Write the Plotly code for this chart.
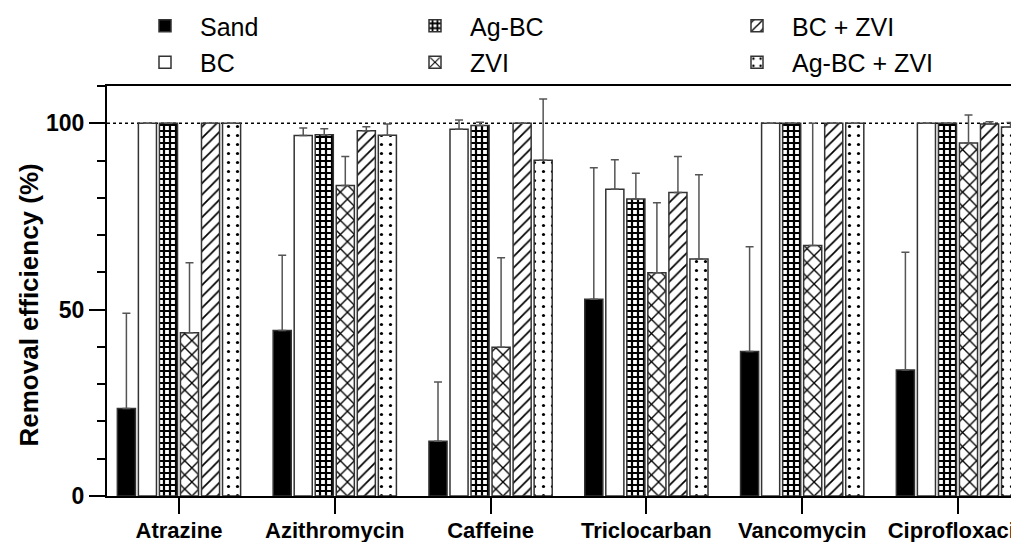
import plotly.graph_objects as go

categories = ["Atrazine", "Azithromycin", "Caffeine", "Triclocarban", "Vancomycin", "Ciprofloxacin"]
series_names = ["Sand", "BC", "Ag-BC", "ZVI", "BC + ZVI", "Ag-BC + ZVI"]

sand = [23.5, 44.4, 14.7, 52.8, 38.8, 33.8]
sand_err = [25.5, 20.2, 15.9, 35.3, 28.1, 31.6]
bc = [100, 96.7, 98.4, 82.3, 100, 100]
bc_err = [0, 2.0, 2.5, 7.9, 0, 0]
agbc = [100, 96.9, 99.4, 79.7, 100, 100]
agbc_err = [0, 1.6, 0.9, 6.9, 0, 0]
zvi = [43.8, 83.3, 39.9, 59.9, 67.2, 94.7]
zvi_err = [18.8, 7.8, 24.0, 18.8, 32.8, 7.5]
bczvi = [100, 98.0, 100, 81.4, 100, 99.8]
bczvi_err = [0, 1.1, 0, 9.7, 0, 0.6]
agbczvi = [100, 96.8, 90.1, 63.6, 100, 99.0]
agbczvi_err = [0, 3.0, 16.4, 22.6, 0, 1.2]

values = [sand, bc, agbc, zvi, bczvi, agbczvi]
errors = [sand_err, bc_err, agbc_err, zvi_err, bczvi_err, agbczvi_err]

patterns = [
    dict(shape="", fill="black"),
    dict(shape="", fill="white"),
    dict(shape="+", fill="white", size=6, solidity=0.6),
    dict(shape="x", fill="white", size=10, solidity=0.25),
    dict(shape="/", fill="white", size=8, solidity=0.22),
    dict(shape=".", fill="white", size=9, solidity=0.1),
]
legends = ["legend", "legend", "legend2", "legend2", "legend3", "legend3"]

# page has an 8px body margin; plot area placed accordingly
L, T, B = 99, 78, 54
PW, PH = 1019 - L, 542 - T - B

fig = go.Figure()
for i, name in enumerate(series_names):
    p = patterns[i]
    marker = dict(color=p["fill"], line=dict(color="#333333", width=1.5))
    if p["shape"]:
        marker["pattern"] = dict(shape=p["shape"], fgcolor="black", bgcolor="white",
                                 size=p["size"], solidity=p["solidity"], fillmode="replace")
    fig.add_trace(go.Bar(
        name=name, x=categories, y=values[i], marker=marker,
        error_y=dict(type="data", array=errors[i], arrayminus=[0] * len(categories),
                     symmetric=False, color="#555555", thickness=1.5, width=4),
        legend=legends[i], legendgroup=name,
    ))

fig.add_shape(type="line", xref="paper", yref="y", x0=0, x1=1, y0=100, y1=100,
              line=dict(color="black", width=1.5, dash="dot"), layer="below")

fig.add_annotation(text="Removal efficiency (%)", xref="paper", yref="paper",
                   x=(20 - L) / PW, y=(T + PH - 297.5) / PH, xanchor="center", yanchor="middle",
                   textangle=-90, showarrow=False,
                   font=dict(family="Liberation Sans", size=26, color="black", weight="bold"))

legend_common = dict(orientation="v", font=dict(family="Liberation Sans", size=25, color="black"),
                     bgcolor="rgba(0,0,0,0)", borderwidth=0, itemwidth=60,
                     tracegroupgap=1, traceorder="grouped", xanchor="left", yanchor="top",
                     itemclick=False, itemdoubleclick=False)
ly = 1 + (T + 5) / PH

fig.update_layout(
    width=1019, height=542,
    margin=dict(l=L, r=0, t=T, b=B, autoexpand=False),
    paper_bgcolor="white", plot_bgcolor="white",
    barmode="group", bargap=0.19, bargroupgap=0.14,
    legend=dict(x=(122 - L) / PW, y=ly, **legend_common),
    legend2=dict(x=(392 - L) / PW, y=ly, **legend_common),
    legend3=dict(x=(714 - L) / PW, y=ly, **legend_common),
    xaxis=dict(range=[-0.462, 5.443], showline=True, linecolor="black", linewidth=2, mirror=True,
               ticks="outside", ticklen=16, tickwidth=2, tickcolor="black", ticklabelstandoff=-2,
               tickfont=dict(family="Liberation Sans", size=22, color="black", weight="bold"),
               showgrid=False, zeroline=False, automargin=False),
    yaxis=dict(range=[0, 110], tickvals=[0, 50, 100], showline=True, linecolor="black", linewidth=2,
               ticks="outside", ticklen=16, tickwidth=2, tickcolor="black",
               minor=dict(dtick=10, tick0=0, ticks="outside", ticklen=8, tickwidth=2, tickcolor="black"),
               tickfont=dict(family="Liberation Sans", size=23, color="black", weight="bold"),
               showgrid=False, zeroline=False, automargin=False),
)

fig.write_html("out.html")
